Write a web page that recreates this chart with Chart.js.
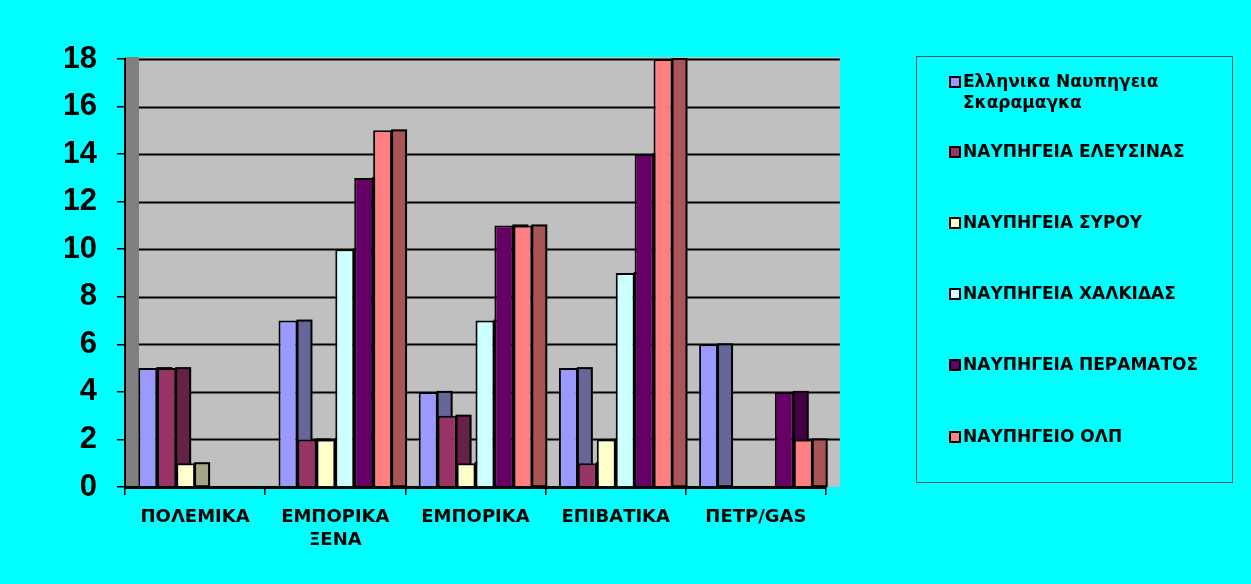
<!DOCTYPE html>
<html lang="el">
<head>
<meta charset="UTF-8">
<title>Ναυπηγεία</title>
<script src="https://cdn.jsdelivr.net/npm/chart.js"></script>
<style>
    body { margin: 0; background: #00FFFF; font-family: "DejaVu Sans", Arial, sans-serif; }
    #wrap { position: relative; width: 1251px; height: 584px; overflow: hidden; }
    #chart { position: absolute; left: 0; top: 0; }
    #legendBox { position: absolute; left: 916px; top: 56px; width: 315px; height: 425px; border: 1px solid #3a5a5a; }
    .item { position: absolute; left: 32px; width: 280px; font-weight: bold; font-size: 17px; line-height: 21px; color: #000; }
    .item .mk { position: absolute; left: 0; top: 5px; width: 8px; height: 8px; border: 2px solid #000; }
    .item .tx { display: block; margin-left: 14px; width: 262px; }
</style>
</head>
<body>
<div id="wrap">
    <canvas id="chart" width="1251" height="584"></canvas>
    <div id="legendBox"></div>
</div>
<script>
// κατηγορίες πλοίων
const categories = [['ΠΟΛΕΜΙΚΑ'], ['ΕΜΠΟΡΙΚΑ', 'ΞΕΝΑ'], ['ΕΜΠΟΡΙΚΑ'], ['ΕΠΙΒΑΤΙΚΑ'], ['ΠΕΤΡ/GAS']];

const seriesNames = [
    'Ελληνικα Ναυπηγεια Σκαραμαγκα',
    'ΝΑΥΠΗΓΕΙΑ ΕΛΕΥΣΙΝΑΣ',
    'ΝΑΥΠΗΓΕΙΑ ΣΥΡΟΥ',
    'ΝΑΥΠΗΓΕΙΑ ΧΑΛΚΙΔΑΣ',
    'ΝΑΥΠΗΓΕΙΑ ΠΕΡΑΜΑΤΟΣ',
    'ΝΑΥΠΗΓΕΙΟ ΟΛΠ'
];

const skaramagkas = [5, 7, 4, 5, 6];
const elefsina = [5, 2, 3, 1, 0];
const syros = [1, 2, 1, 2, 0];
const chalkida = [0, 10, 7, 9, 0];
const perama = [0, 13, 11, 14, 4];
const olp = [0, 15, 11, 18, 2];

const yTicks = [0, 2, 4, 6, 8, 10, 12, 14, 16, 18];

const frontColors = ['#9999FF', '#993366', '#FFFFCC', '#CCFFFF', '#660066', '#FF8080'];
const sideColors = ['#666699', '#662244', '#A6A684', '#88AAAA', '#440044', '#AA5555'];

const DEPTH = 14;

// ψευδο-3D: τοίχος, πλέγμα και πλαϊνές έδρες
const depth3d = {
    id: 'depth3d',
    beforeDraw(chart) {
        const { ctx, chartArea: a } = chart;
        const y = chart.scales.y;
        ctx.save();
        ctx.fillStyle = '#C0C0C0';
        ctx.fillRect(a.left, a.top - 2, a.right - a.left + DEPTH, a.bottom - a.top + 2);
        ctx.fillStyle = '#808080';
        ctx.fillRect(a.left, a.top - 2, DEPTH, a.bottom - a.top + 2);
        ctx.strokeStyle = '#000';
        ctx.lineWidth = 2;
        yTicks.forEach(v => {
            if (v === 0) return;
            const py = Math.round(y.getPixelForValue(v)) + 0.5;
            ctx.beginPath();
            ctx.moveTo(a.left + DEPTH, py);
            ctx.lineTo(a.right + DEPTH, py);
            ctx.stroke();
        });
        ctx.restore();
    },
    beforeDatasetsDraw(chart) {
        const ctx = chart.ctx;
        ctx.save();
        chart.data.datasets.forEach((ds, i) => {
            const meta = chart.getDatasetMeta(i);
            meta.data.forEach((bar, j) => {
                if (!ds.data[j]) return;
                const p = bar.getProps(['x', 'y', 'base', 'width'], true);
                const x0 = p.x + p.width / 2;
                ctx.fillStyle = sideColors[i];
                ctx.fillRect(x0, p.y, DEPTH, p.base - p.y);
                ctx.strokeStyle = '#000';
                ctx.lineWidth = 2;
                ctx.strokeRect(x0, p.y, DEPTH, p.base - p.y);
            });
        });
        ctx.restore();
    }
};

const seriesData = [skaramagkas, elefsina, syros, chalkida, perama, olp];

new Chart(document.getElementById('chart'), {
    type: 'bar',
    data: {
        labels: categories,
        datasets: seriesData.map((d, i) => ({
            label: seriesNames[i],
            data: d,
            backgroundColor: frontColors[i],
            borderColor: '#000',
            borderWidth: 2,
            categoryPercentage: 0.81,
            barPercentage: 1
        }))
    },
    options: {
        responsive: false,
        animation: false,
        layout: { padding: { left: 65, right: 425, top: 59, bottom: 37 } },
        plugins: {
            legend: { display: false },
            tooltip: { enabled: false }
        },
        scales: {
            x: {
                grid: { drawOnChartArea: false, color: '#000', tickLength: 8, lineWidth: 1.5 },
                border: { color: '#000', width: 3 },
                ticks: {
                    color: '#000', padding: 11,
                    font: { family: '"DejaVu Sans", Arial, sans-serif', size: 18, weight: 'bold', lineHeight: 1.28 }
                },
                afterFit(s) { s.height = 60; }
            },
            y: {
                min: 0,
                max: 18,
                grid: { drawOnChartArea: false, color: '#000', tickLength: 8, lineWidth: 1.5 },
                border: { color: '#000', width: 2 },
                ticks: {
                    stepSize: 2, color: '#000', padding: 20,
                    font: { family: '"Liberation Sans", Arial, sans-serif', size: 31, weight: 'bold' }
                },
                afterFit(s) { s.width = 60; }
            }
        }
    },
    plugins: [depth3d]
});

// υπόμνημα
const legendTops = [71, 141, 212, 283, 354, 426];
const box = document.getElementById('legendBox');
seriesNames.forEach((name, i) => {
    const it = document.createElement('div');
    it.className = 'item';
    it.style.top = (legendTops[i] - 57) + 'px';
    it.innerHTML = '<span class="mk" style="background:' + frontColors[i] + '"></span><span class="tx"></span>';
    it.querySelector('.tx').textContent = name;
    box.appendChild(it);
});
</script>
</body>
</html>
